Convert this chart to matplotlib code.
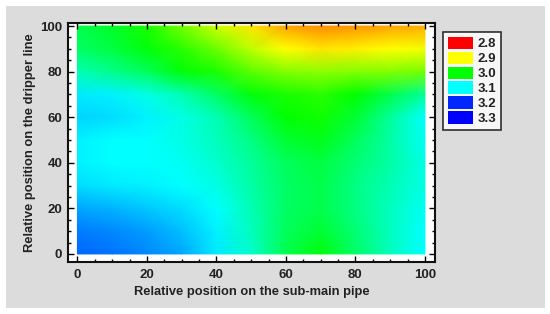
import numpy as np
import matplotlib
matplotlib.use("Agg")
import matplotlib.pyplot as plt
from matplotlib.colors import LinearSegmentedColormap, Normalize
from matplotlib.patches import Rectangle, Patch
from matplotlib.ticker import MultipleLocator

# Data: grid positions and values (rows = dripper line position, cols = sub-main position)
x_pos = [0, 10, 20, 30, 40, 50, 60, 70, 80, 90, 100]
y_pos = [0, 10, 20, 30, 40, 50, 60, 70, 80, 90, 100]
values = [
    [3.170, 3.165, 3.155, 3.140, 3.110, 3.080, 3.030, 3.005, 3.040, 3.075, 3.100],  # y=0
    [3.160, 3.155, 3.145, 3.130, 3.105, 3.075, 3.035, 3.020, 3.045, 3.075, 3.100],  # y=10
    [3.140, 3.135, 3.125, 3.115, 3.100, 3.070, 3.040, 3.030, 3.050, 3.075, 3.095],  # y=20
    [3.115, 3.110, 3.105, 3.100, 3.090, 3.065, 3.040, 3.030, 3.050, 3.070, 3.090],  # y=30
    [3.105, 3.100, 3.100, 3.095, 3.080, 3.060, 3.035, 3.025, 3.045, 3.065, 3.090],  # y=40
    [3.105, 3.100, 3.100, 3.090, 3.075, 3.050, 3.020, 3.010, 3.035, 3.065, 3.095],  # y=50
    [3.120, 3.115, 3.105, 3.090, 3.070, 3.035, 3.000, 2.995, 3.020, 3.060, 3.100],  # y=60
    [3.110, 3.105, 3.090, 3.070, 3.040, 3.005, 2.990, 2.985, 3.000, 3.030, 3.060],  # y=70
    [3.070, 3.055, 3.035, 3.005, 2.990, 2.965, 2.950, 2.945, 2.950, 2.950, 2.955],  # y=80
    [3.040, 3.025, 3.005, 2.985, 2.960, 2.925, 2.900, 2.890, 2.895, 2.900, 2.905],  # y=90
    [3.030, 3.015, 2.990, 2.955, 2.920, 2.890, 2.865, 2.855, 2.860, 2.865, 2.870],  # y=100
]
legend_levels = ["2.8", "2.9", "3.0", "3.1", "3.2", "3.3"]

plt.rcParams['font.family'] = ['Liberation Sans', 'DejaVu Sans']

cmap = LinearSegmentedColormap.from_list(
    "statgraph",
    [(0.0, (1, 0, 0)), (0.2, (1, 1, 0)), (0.4, (0, 1, 0)),
     (0.6, (0, 1, 1)), (0.8, (0, 0.15, 1)), (1.0, (0, 0, 1))])
norm = Normalize(vmin=2.8, vmax=3.3)

fig = plt.figure(figsize=(5.5, 3.14), dpi=100)
fig.patch.set_facecolor('white')
fig.add_artist(Rectangle((6/550, 6/314), 539/550, 302/314, transform=fig.transFigure,
                         facecolor='#dcdcdc', edgecolor='none', zorder=-10))

ax = fig.add_axes([67.7/550, 1 - 261.7/314, (435 - 67.7)/550, (261.7 - 23.3)/314])
ax.set_facecolor('white')

X, Y = np.meshgrid(np.array(x_pos, float), np.array(y_pos, float))
Z = np.array(values)
ax.pcolormesh(X, Y, Z, cmap=cmap, norm=norm, shading='gouraud', rasterized=True)

ax.set_xlim(-2.8, 102.9)
ax.set_ylim(-3.4, 101.2)
ax.xaxis.set_major_locator(MultipleLocator(20))
ax.xaxis.set_minor_locator(MultipleLocator(5))
ax.yaxis.set_major_locator(MultipleLocator(20))
ax.yaxis.set_minor_locator(MultipleLocator(5))
ax.tick_params(which='both', direction='in', top=True, right=True, colors='black',
               labelsize=9.5, width=1.0)
ax.tick_params(which='major', length=4)
ax.tick_params(which='minor', length=2)
ax.tick_params(axis='x', which='major', pad=5)
ax.tick_params(axis='y', which='major', pad=4)
for lab in ax.get_xticklabels() + ax.get_yticklabels():
    lab.set_fontweight('bold')
    lab.set_color('#222222')
for s in ax.spines.values():
    s.set_linewidth(1.5)
    s.set_color('#111111')

ax.set_xlabel('Relative position on the sub-main pipe', fontsize=9.3, fontweight='bold',
              color='#222222', labelpad=4)
ax.set_ylabel('Relative position on the dripper line', fontsize=9.3, fontweight='bold',
              color='#222222', labelpad=3)

handles = [Patch(facecolor=cmap(norm(float(v))), edgecolor='none', label=v) for v in legend_levels]
leg = fig.legend(handles=handles, loc='upper left', bbox_to_anchor=(443/550, 1 - 32/314),
                 frameon=True, fancybox=False, edgecolor='black', facecolor='white',
                 fontsize=9.5, handlelength=1.9, handleheight=1.05, labelspacing=0.1,
                 handletextpad=0.4, borderpad=0.35, borderaxespad=0)
leg.get_frame().set_linewidth(1.2)
for t in leg.get_texts():
    t.set_fontweight('bold')
    t.set_color('#222222')

fig.savefig('out.png', dpi=100, facecolor=fig.get_facecolor())
